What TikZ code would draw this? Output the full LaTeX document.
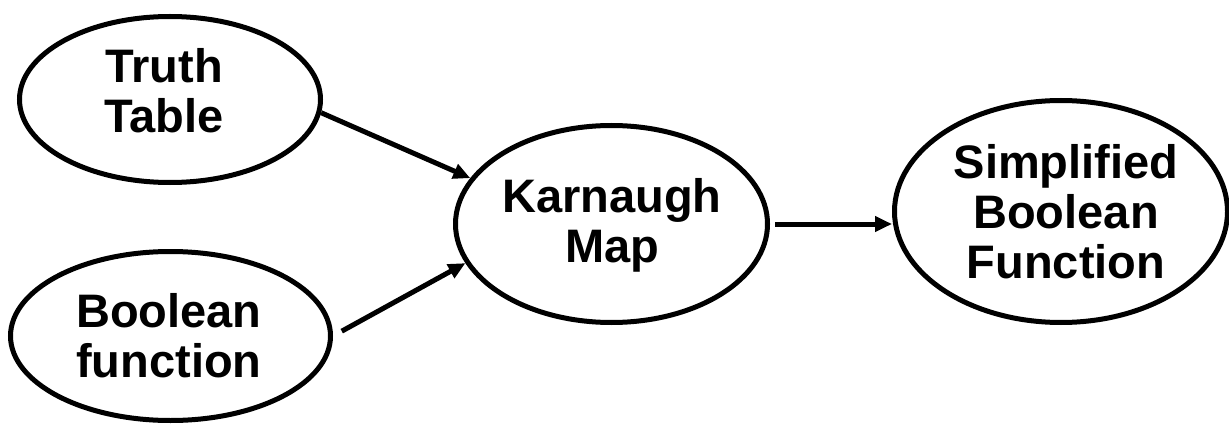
\documentclass[tikz,border=0pt]{standalone}
\usepackage{fontspec}
\setmainfont{Liberation Sans}
\usetikzlibrary{shapes.geometric,arrows.meta}
\begin{document}
\begin{tikzpicture}[x=1pt,y=-1pt,
  oval/.style={draw,ellipse,line width=5pt,inner sep=0pt},
  lbl/.style={align=center,font=\fontsize{47}{50}\selectfont\bfseries,text depth=0pt,inner sep=0pt},
  arr/.style={line width=5pt,-{Triangle[length=17pt,width=15pt]}}]
\useasboundingbox (0,0) rectangle (1229,425);
\node[oval,minimum width=301pt,minimum height=166pt] (tt) at (170,99.5) {};
\node[oval,minimum width=320pt,minimum height=169pt] (bf) at (170.5,336) {};
\node[oval,minimum width=312pt,minimum height=197pt] (km) at (611.5,224) {};
\node[oval,minimum width=333pt,minimum height=222pt] (sb) at (1061,211.5) {};
\node[lbl] (ttl) at (164,90.5) {Truth\\Table};
\node[lbl] (bfl) at (169,335) {Boolean\\function};
\node[lbl] (kml) at (612,220.5) {Karnaugh\\Map};
\node[lbl] (sbl) at (1066,211.5) {Simplified\\Boolean\\Function};
\draw[arr] (tt.-5) -- (km.162);
\draw[arr,shorten <=10pt] (bf.0) -- (km.195);
\draw[arr,shorten <=5pt] (km.east) -- (km.east -| sb.west);
\end{tikzpicture}
\end{document}
